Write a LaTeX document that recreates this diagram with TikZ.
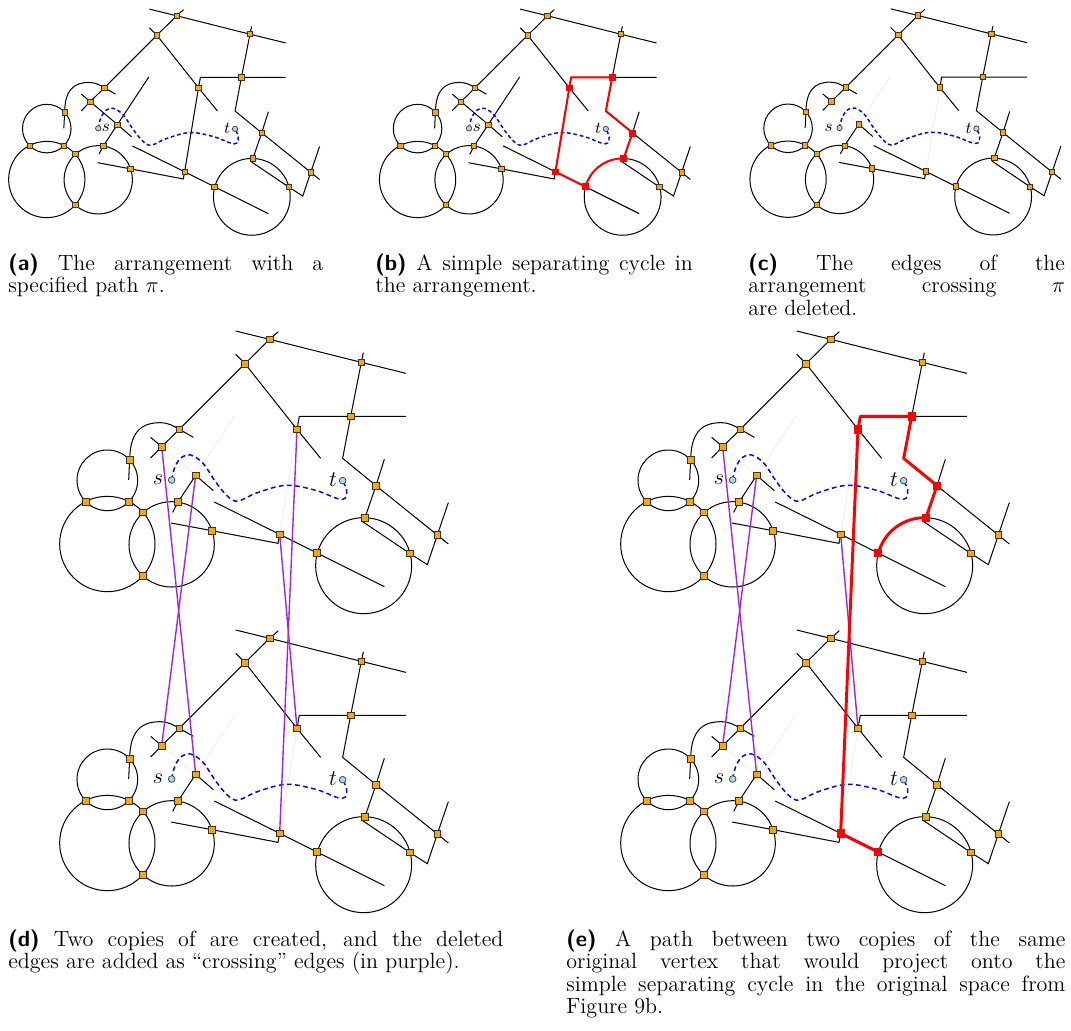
\documentclass[tikz,border=0pt]{standalone}
\definecolor{vorange}{RGB}{255,165,0}
\definecolor{sblue}{RGB}{173,216,230}
\definecolor{purp}{RGB}{160,32,240}
\tikzset{
  arrln/.style={line width=0.55pt, black},
  faintln/.style={line width=0.5pt, black!6},
  pathpi/.style={blue, line width=0.8pt, dash pattern=on 2pt off 1.5pt},
  vbase/.style={rectangle, draw=black!80, fill=vorange, line width=0.4pt, inner sep=0pt},
  vtx/.style={vbase, minimum size=2.9pt},
  rbase/.style={rectangle, fill=red, draw=red, line width=0.3pt, inner sep=0pt},
  stp/.style={circle, draw=black!75, fill=sblue, line width=0.4pt, inner sep=0pt, minimum size=2.9pt},
  lbl/.style={inner sep=0pt, font=\fontsize{9}{10}\selectfont},
  captxt/.style={anchor=base west, inner sep=0pt, align=justify, font=\fontsize{11.9}{12.15}\selectfont},
  crossln/.style={purp, line width=0.75pt},
  redb/.style={red, line width=1.1pt, line join=round},
  rede/.style={red, line width=1.6pt, line join=round},
  bigpanel/.style={vtx/.style={vbase, minimum size=3.5pt},
              stp/.append style={minimum size=3.6pt},
              lbl/.style={inner sep=0pt, font=\fontsize{11.5}{13}\selectfont},
              pathpi/.append style={dash pattern=on 2.6pt off 1.8pt}},
}
\newcommand\arrlines[2]{%
  \coordinate (#1t1) at (557,33);
  \coordinate (#1A) at (659,58);
  \coordinate (#1P) at (934,127);
  \coordinate (#1t2) at (1068,160);
  \coordinate (#1a1) at (685,35);
  \coordinate (#1B) at (585,131);
  \coordinate (#1b1) at (557,103);
  \coordinate (#1C) at (388,328);
  \coordinate (#1E) at (335,380);
  \coordinate (#1e1) at (302,414);
  \coordinate (#1D) at (741,328);
  \coordinate (#1d1) at (812,415);
  \coordinate (#1e0) at (302,352);
  \coordinate (#1F) at (437,466);
  \coordinate (#1f1) at (490,512);
  \coordinate (#1f0) at (555,287);
  \coordinate (#1G) at (384,546);
  \coordinate (#1g1) at (368,577);
  \coordinate (#1k0) at (236,480);
  \coordinate (#1K) at (239,420);
  \coordinate (#1kt) at (330,308);
  \coordinate (#1c1) at (430,352);
  \coordinate (#1h0) at (363,609);
  \coordinate (#1H) at (486,632);
  \coordinate (#1r0) at (684,670);
  \coordinate (#1R) at (689,643);
  \coordinate (#1dc) at (748,289);
  \coordinate (#1Q) at (902,289);
  \coordinate (#1q1) at (1068,289);
  \coordinate (#1s0) at (493,546);
  \coordinate (#1S) at (801,699);
  \coordinate (#1s1) at (1003,800);
  \coordinate (#1p0) at (940,98);
  \coordinate (#1k1) at (878,415);
  \coordinate (#1V) at (978,497);
  \coordinate (#1X) at (1162,645);
  \coordinate (#1x1) at (1195,672);
  \coordinate (#1v0) at (1003,418);
  \coordinate (#1U) at (945,593);
  \coordinate (#1u1) at (938,605);
  \coordinate (#1W) at (1079,700);
  \coordinate (#1w1) at (1132,734);
  \coordinate (#1x0) at (1195,548);
  \coordinate (#1L1) at (108,545);
  \coordinate (#1L2) at (236,545);
  \coordinate (#1M1) at (279,577);
  \coordinate (#1M2) at (279,768);
  \coordinate (#1o1) at (172,481);
  \coordinate (#1o2) at (172,672);
  \coordinate (#1o3) at (365,673);
  \coordinate (#1o4) at (941,737);
  \coordinate (#1sp) at (365,480);
  \coordinate (#1tp) at (878,482);
  \coordinate (#1tl) at (849,480);
  \ifnum#2=0 \coordinate (#1sl) at (394,478);\else \coordinate (#1sl) at (324,480);\fi
  \draw[arrln] (#1o1) circle[radius=91] (#1o2) circle[radius=143]
              (#1o3) circle[radius=128] (#1o4) circle[radius=144];
  \draw[arrln] (#1t1) -- (#1A) -- (#1P) -- (#1t2);
  \draw[arrln] (#1a1) -- (#1A) -- (#1B) -- (#1C) -- (#1E) -- (#1e1);
  \draw[arrln] (#1b1) -- (#1B) -- (#1D) -- (#1d1);
  \draw[arrln] (#1k0) -- (#1K) .. controls (240,340) and (270,308) .. (#1kt)
              .. controls (355,308) and (372,318) .. (#1C) -- (#1c1);
  \draw[arrln] (#1s0) -- (#1R) -- (#1S) -- (#1s1);
  \draw[arrln] (#1p0) -- (#1P) -- (#1Q) -- (#1k1) -- (#1V) -- (#1X) -- (#1x1);
  \draw[arrln] (#1v0) -- (#1V) -- (#1U) -- (#1u1) -- (#1W) -- (#1w1) -- (#1X) -- (#1x0);
  \draw[arrln] (#1e0) -- (#1E);
  \draw[arrln] (#1F) -- (#1f1);
  \draw[arrln] (#1F) -- (#1G) -- (#1g1);
  \draw[arrln] (#1h0) -- (#1H) -- (#1r0) -- (#1R);
  \draw[arrln] (#1D) -- (#1dc) -- (#1Q) -- (#1q1);
  \ifnum#2=0
    \draw[arrln] (#1E) -- (#1F);
    \draw[arrln] (#1f0) -- (#1F);
    \draw[arrln] (#1R) -- (#1D);
  \else
    \draw[faintln] (#1E) -- (#1F);
    \draw[faintln] (#1f0) -- (#1F);
    \draw[faintln] (#1R) -- (#1D);
  \fi
  \draw[pathpi] plot[smooth, tension=0.6] coordinates {(#1sp) (375,440) (395,412) (422,405)
     (459,430) (497,486) (534,530) (565,543) (622,518) (709,496) (797,511) (860,535)
     (885,535) (890,510) (#1tp)};
}
\newcommand\arrverts[1]{%
  \foreach \n in {A,B,P,C,E,D,Q,K,F,G,H,R,S,V,U,W,X,L1,L2,M1,M2}{\node[vtx] (#1v\n) at (#1\n) {};}
  \node[stp] (#1s) at (#1sp) {};
  \node[stp] (#1t) at (#1tp) {};
  \node[lbl] (#1slab) at (#1sl) {$s$};
  \node[lbl] (#1tlab) at (#1tl) {$t$};
}
\begin{document}
\begin{tikzpicture}[x=0.54pt,y=-0.54pt]
\useasboundingbox (0,0) rectangle (1071,1030);
% (a)
\begin{scope}[shift={(0.9,0.3)}, scale=0.26667]
  \arrlines{a}{0}
  \arrverts{a}
\end{scope}
% (b)
\begin{scope}[shift={(371.7,0.3)}, scale=0.26667]
  \arrlines{b}{0}
  \draw[redb] (bD) -- (bdc) -- (bQ) -- (bk1) -- (bV) -- (bU)
     -- plot[domain=-88.4:-164.8, samples=30] ({941+144*cos(\x)},{737+144*sin(\x)})
     -- (bS) -- (bR) -- cycle;
  \arrverts{b}
  \foreach \n in {D,Q,V,U,S,R}{\node[rbase, minimum size=3.2pt] (bred\n) at (b\n) {};}
\end{scope}
% (c)
\begin{scope}[shift={(742.2,0)}, scale=0.26667]
  \arrlines{c}{1}
  \arrverts{c}
\end{scope}
% (d)
\begin{scope}[shift={(50,320)}, scale=0.33333, bigpanel]
  \arrlines{dt}{1}
\end{scope}
\begin{scope}[shift={(50,619)}, scale=0.33333, bigpanel]
  \arrlines{db}{1}
\end{scope}
\draw[crossln] (dtE) -- (dbF);
\draw[crossln] (dtF) -- (dbE);
\draw[crossln] (dtD) -- (dbR);
\draw[crossln] (dtR) -- (dbD);
\begin{scope}[bigpanel]
  \arrverts{dt}
  \arrverts{db}
\end{scope}
% (e)
\begin{scope}[shift={(611,320)}, scale=0.33333, bigpanel]
  \arrlines{et}{1}
\end{scope}
\begin{scope}[shift={(611,619)}, scale=0.33333, bigpanel]
  \arrlines{eb}{1}
\end{scope}
\draw[crossln] (etE) -- (ebF);
\draw[crossln] (etF) -- (ebE);
\draw[crossln] (etR) -- (ebD);
\begin{scope}[shift={(611,320)}, scale=0.33333]
  \draw[rede] (etS) -- plot[domain=-164.8:-88.4, samples=30] ({941+144*cos(\x)},{737+144*sin(\x)})
     -- (etV) -- (etk1) -- (etQ) -- (etdc) -- (etD) -- (ebR) -- (ebS);
\end{scope}
\begin{scope}[bigpanel]
  \arrverts{et}
  \arrverts{eb}
\end{scope}
\foreach \n in {etD,etQ,etV,etU,etS,ebR,ebS}{\node[rbase, minimum size=4pt] (red\n) at (\n) {};}
% captions
\node[captxt, text width=170pt] (capa) at (8,270)
  {\textsf{\textbf{(a)}} The arrangement with a\linebreak specified path $\pi$.};
\node[captxt, text width=171.5pt] (capb) at (375,270)
  {\textsf{\textbf{(b)}} A simple separating cycle in\linebreak the arrangement.};
\node[captxt, text width=171pt] (capc) at (748,270)
  {\textsf{\textbf{(c)}} The edges of the\linebreak arrangement crossing $\pi$\linebreak are deleted.};
\node[captxt, text width=267.3pt] (capd) at (8,946)
  {\textsf{\textbf{(d)}} Two copies of are created, and the deleted\linebreak edges are added as ``crossing'' edges (in purple).};
\node[captxt, text width=269.5pt] (cape) at (566,946)
  {\textsf{\textbf{(e)}} A path between two copies of the same\linebreak original vertex that would project onto the\linebreak simple separating cycle in the original space from\linebreak Figure 9b.};
\end{tikzpicture}
\end{document}
